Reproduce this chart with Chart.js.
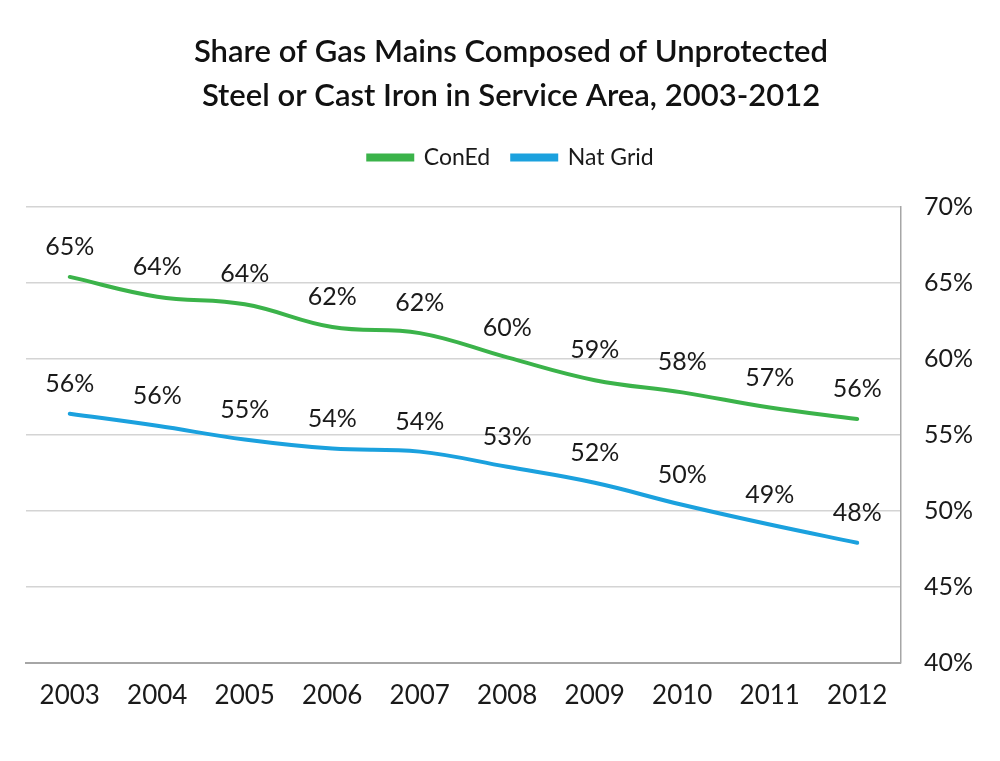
<!DOCTYPE html>
<html>
<head>
<meta charset="utf-8">
<script src="https://cdn.jsdelivr.net/npm/chart.js@4"></script>
<style>
  html, body { margin: 0; padding: 0; background: #fff; }
  #wrap { width: 1000px; height: 761px; }
</style>
</head>
<body>
<div id="wrap"><canvas id="gasChart" width="1000" height="761"></canvas></div>
<script>
// Dữ liệu (%)
const years = ['2003', '2004', '2005', '2006', '2007', '2008', '2009', '2010', '2011', '2012'];
const conEd = [65.4, 64.1, 63.6, 62.1, 61.7, 60.1, 58.6, 57.8, 56.8, 56.05];
const natGrid = [56.4, 55.6, 54.7, 54.1, 53.9, 52.9, 51.85, 50.4, 49.1, 47.9];
const yTicks = [40, 45, 50, 55, 60, 65, 70];

const GREEN = 'rgb(59, 179, 74)';
const BLUE = 'rgb(27, 161, 222)';
const FONT = 'Lato, "Noto Sans", sans-serif';

// Vẽ nhãn giá trị phía trên mỗi điểm
const valueLabels = {
  id: 'valueLabels',
  afterDatasetsDraw(chart) {
    const ctx = chart.ctx;
    ctx.save();
    ctx.font = '25px ' + FONT;
    ctx.fillStyle = '#1a1a1a';
    ctx.textAlign = 'center';
    ctx.textBaseline = 'middle';
    chart.data.datasets.forEach((ds, i) => {
      chart.getDatasetMeta(i).data.forEach((pt, j) => {
        ctx.fillText(Math.round(ds.data[j]) + '%', pt.x, pt.y - 30);
      });
    });
    ctx.restore();
  }
};

// Thêm khoảng trống dưới chú thích
const legendGap = {
  id: 'legendGap',
  beforeInit(chart) {
    const origFit = chart.legend.fit;
    chart.legend.fit = function () {
      origFit.bind(chart.legend)();
      this.height += 28;
    };
  }
};

new Chart(document.getElementById('gasChart'), {
  type: 'line',
  data: {
    labels: years,
    datasets: [
      {
        label: 'ConEd',
        data: conEd,
        borderColor: GREEN,
        backgroundColor: GREEN,
        borderWidth: 4,
        pointRadius: 0,
        tension: 0.4,
        borderCapStyle: 'round'
      },
      {
        label: 'Nat Grid',
        data: natGrid,
        borderColor: BLUE,
        backgroundColor: BLUE,
        borderWidth: 4,
        pointRadius: 0,
        tension: 0.4,
        borderCapStyle: 'round'
      }
    ]
  },
  options: {
    responsive: false,
    animation: false,
    layout: { padding: { top: 30, left: 26, right: 4, bottom: 33 } },
    scales: {
      x: {
        offset: true,
        grid: { display: false, drawTicks: false },
        border: { color: '#a6a6a6', width: 2 },
        ticks: { color: '#1a1a1a', font: { family: FONT, size: 26 }, padding: 17 }
      },
      y: {
        position: 'right',
        min: 40,
        max: 70,
        afterBuildTicks(axis) { axis.ticks = yTicks.map(v => ({ value: v })); },
        grid: { color: '#d4d4d4', lineWidth: 1.5, drawTicks: false },
        border: { color: '#a6a6a6', width: 1.5 },
        ticks: {
          color: '#1a1a1a',
          font: { family: FONT, size: 25 },
          padding: 23,
          callback: v => v + '%'
        }
      }
    },
    plugins: {
      title: {
        display: true,
        text: ['Share of Gas Mains Composed of Unprotected', 'Steel or Cast Iron in Service Area, 2003-2012'],
        color: '#111',
        font: { family: FONT, size: 31, weight: '600', lineHeight: 1.42 },
        padding: { top: 0, bottom: 6 }
      },
      legend: {
        display: true,
        labels: {
          color: '#1a1a1a',
          font: { family: FONT, size: 23 },
          boxWidth: 44,
          boxHeight: 4,
          padding: 22
        }
      },
      tooltip: { enabled: false }
    }
  },
  plugins: [valueLabels, legendGap]
});
</script>
</body>
</html>
